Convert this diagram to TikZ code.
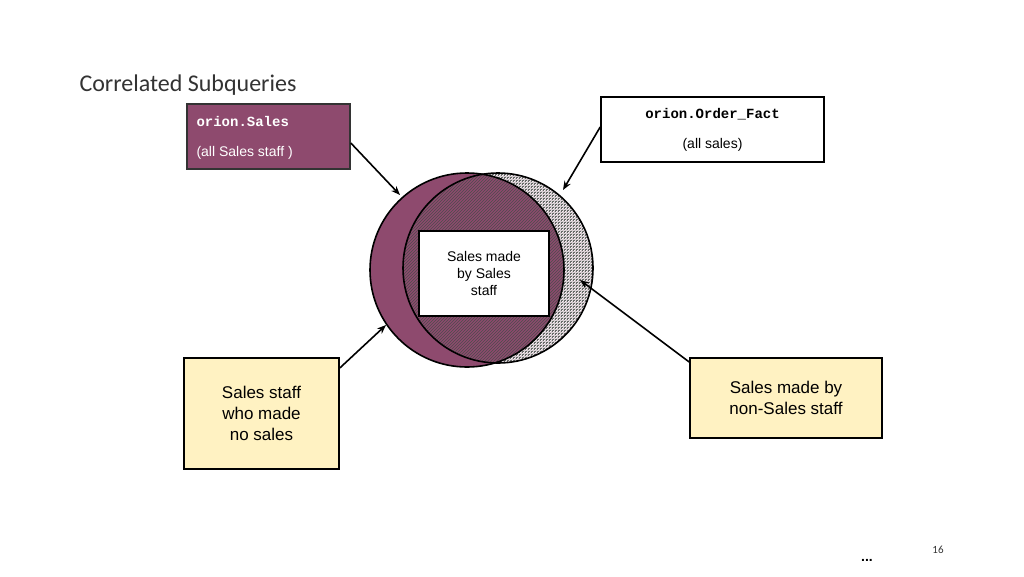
\documentclass[tikz,border=0pt]{standalone}
\usepackage{fontspec}
\setmainfont{Liberation Sans}
\newfontfamily\titlefont{Carlito}
\setmonofont{Liberation Mono}
\usetikzlibrary{patterns,arrows.meta}
\definecolor{plum}{HTML}{8E4A6E}
\definecolor{paleyellow}{HTML}{FFF2C2}
\definecolor{lgray}{HTML}{CDBFC6}
\begin{document}
\begin{tikzpicture}[x=1pt,y=-1pt,
  box/.style={draw=black,line width=1.6pt,align=center,inner sep=0pt},
  arr/.style={line width=1.6pt,-{Stealth[length=9pt,width=7pt]}}]
\useasboundingbox (0,0) rectangle (1024,576);
% circles
\fill[lgray] (498,268) circle (95);
\fill[pattern=grid,pattern color=gray!70!black] (498,268) circle (95);
\fill[pattern=north east lines,pattern color=white] (498,268) circle (95);
\fill[plum] (467,270) circle (97);
\begin{scope}
\clip (467,270) circle (97);
\fill[pattern=north east lines,pattern color=black!70] (498,268) circle (95);
\end{scope}
\draw[line width=1.6pt] (467,270) circle (97);
\draw[line width=1.6pt] (498,268) circle (95);
\node[box,fill=white,minimum width=130pt,minimum height=85pt,font=\fontsize{14}{17}\selectfont] (mid) at (484,273.5) {Sales made\\by Sales\\staff};
% title
\node[anchor=west,font=\titlefont\fontsize{24}{28}\selectfont,text=black!80] (title) at (76,85) {Correlated Subqueries};
% top boxes
\node[box,fill=plum,minimum width=163pt,minimum height=65pt,draw=black!80] (sales) at (268.5,136.5) {};
\node[anchor=west,text=white,font=\ttfamily\bfseries\fontsize{14}{16}\selectfont] (st) at (193,121) {orion.Sales};
\node[anchor=west,text=white,font=\fontsize{14}{16}\selectfont] (sa) at (193,153) {(all Sales staff )};
\node[box,fill=white,minimum width=223pt,minimum height=65pt] (order) at (712.5,129.5) {};
\node[font=\ttfamily\bfseries\fontsize{14}{16}\selectfont] (ot) at (712.5,114) {orion.Order\_Fact};
\node[font=\fontsize{14}{16}\selectfont] (oa) at (712.5,145) {(all sales)};
% yellow boxes
\node[box,fill=paleyellow,minimum width=155pt,minimum height=111pt,font=\fontsize{17}{21}\selectfont] (nos) at (261.5,413.5) {Sales staff\\who made\\no sales};
\node[box,fill=paleyellow,minimum width=192pt,minimum height=80pt,font=\fontsize{17}{21}\selectfont] (non) at (786,398) {Sales made by\\non-Sales staff};
% arrows
\coordinate (a1) at (400,195);
\coordinate (a2) at (563,190);
\coordinate (a3) at (386,325);
\coordinate (a4) at (580,280);
\draw[arr] (sales.east |- 0,143) -- (a1);
\draw[arr] (order.west |- 0,127) -- (a2);
\draw[arr] (nos.north east |- 0,368) -- (a3);
\draw[arr] (non.north west |- 0,362) -- (a4);
\node[font=\titlefont\fontsize{11}{13}\selectfont,text=black!80] (pg) at (938,550) {16};
\node[font=\bfseries\fontsize{14}{14}\selectfont] (dots) at (867,560) {...};
\end{tikzpicture}
\end{document}
